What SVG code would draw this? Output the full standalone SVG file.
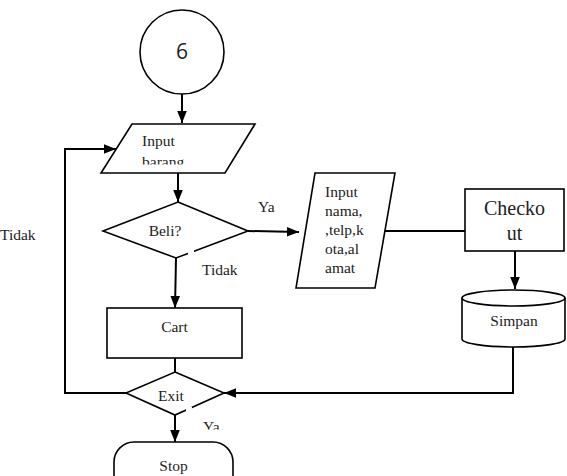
<svg xmlns="http://www.w3.org/2000/svg" width="567" height="476" viewBox="0 0 567 476">
<style>
.s{fill:#fff;stroke:#000;stroke-width:1.6}
.c{fill:none;stroke:#000;stroke-width:2}
.t{font-family:'Liberation Serif','Times New Roman','DejaVu Serif',serif;font-size:15.5px;fill:#222}
.m{text-anchor:middle}
</style>
<defs>
<marker id="ah" viewBox="0 0 10 10" refX="10" refY="5" markerWidth="12" markerHeight="12" orient="auto" markerUnits="userSpaceOnUse">
<path d="M0,1 L10,5 L0,9 z" fill="#000"/>
</marker>
<clipPath id="cb"><rect x="100" y="120" width="160" height="44.5"/></clipPath>
<clipPath id="cy"><rect x="195" y="415" width="40" height="14.5"/></clipPath>
</defs>
<rect width="567" height="476" fill="#fff"/>
<g id="connectors">
<path class="c" d="M182,94 V123" marker-end="url(#ah)"/>
<path class="c" d="M178,173 V202" marker-end="url(#ah)"/>
<path class="c" d="M248,231 L299,232" marker-end="url(#ah)"/>
<path class="c" d="M176,258 L175,308" marker-end="url(#ah)"/>
<path class="c" d="M175,358 V372"/>
<path class="c" d="M126,393 H65 V149 H116" marker-end="url(#ah)"/>
<path class="c" d="M385,231 H465"/>
<path class="c" d="M515,251 V289" marker-end="url(#ah)"/>
<path class="c" d="M513,347 V393 H224" marker-end="url(#ah)"/>
<path class="c" d="M175,415 V442" marker-end="url(#ah)"/>
</g>
<g id="start">
<circle class="s" cx="182" cy="52" r="42"/>
<text x="182" y="59" text-anchor="middle" font-family="Open Sans, Liberation Sans, sans-serif" font-size="21" fill="#222">6</text>
</g>
<g id="input-barang">
<polygon class="s" points="132,124 255,124 225,173 101,173"/>
<g clip-path="url(#cb)">
<text x="142" y="146" class="t" font-family="Liberation Serif, serif">Input</text>
<text x="142" y="167" class="t" font-family="Liberation Serif, serif">barang</text>
</g>
</g>
<g id="beli">
<polygon class="s" points="178,202 248,231 176,258 103,231"/>
<rect x="188" y="246" width="6" height="10" fill="#fff"/>
<text x="165" y="236" class="t m" font-family="Liberation Serif, serif">Beli?</text>
</g>
<text x="258" y="212" class="t" font-family="Liberation Serif, serif">Ya</text>
<text x="202" y="275" class="t" font-family="Liberation Serif, serif">Tidak</text>
<text x="0" y="240" class="t" font-family="Liberation Serif, serif">Tidak</text>
<g id="cart">
<rect class="s" x="107" y="308" width="135" height="50"/>
<text x="174.5" y="332" class="t m" font-family="Liberation Serif, serif">Cart</text>
</g>
<g id="input-data">
<polygon class="s" points="315,173 395,173 375,288 296,288"/>
<text class="t" x="325" y="197" font-family="Liberation Serif, serif">Input</text>
<text class="t" x="325" y="216" font-family="Liberation Serif, serif">nama,</text>
<text class="t" x="325" y="235" font-family="Liberation Serif, serif">,telp,k</text>
<text class="t" x="325" y="254" font-family="Liberation Serif, serif">ota,al</text>
<text class="t" x="325" y="273" font-family="Liberation Serif, serif">amat</text>
</g>
<g id="checkout">
<rect class="s" x="465" y="189" width="99" height="62"/>
<text x="514.5" y="215" class="t m" font-family="Liberation Serif, serif" style="font-size:20px">Checko</text>
<text x="514.5" y="240" class="t m" font-family="Liberation Serif, serif" style="font-size:20px">ut</text>
</g>
<g id="simpan">
<path class="s" d="M462,298 V339 A51.5,8 0 0 0 565,339 V298"/>
<ellipse class="s" cx="513.5" cy="298" rx="51.5" ry="8"/>
<text x="514" y="326" class="t m" font-family="Liberation Serif, serif">Simpan</text>
</g>
<g id="exit">
<polygon class="s" points="175,372 224,393 175,415 126,393"/>
<rect x="186" y="407" width="6" height="8" fill="#fff"/>
<text x="171" y="401" class="t m" font-family="Liberation Serif, serif">Exit</text>
</g>
<g clip-path="url(#cy)"><text x="203" y="432" class="t" font-family="Liberation Serif, serif">Ya</text></g>
<g id="stop">
<rect class="s" x="114" y="442" width="119" height="60" rx="20" ry="20"/>
<text x="173.5" y="471" class="t m" font-family="Liberation Serif, serif">Stop</text>
</g>
</svg>
